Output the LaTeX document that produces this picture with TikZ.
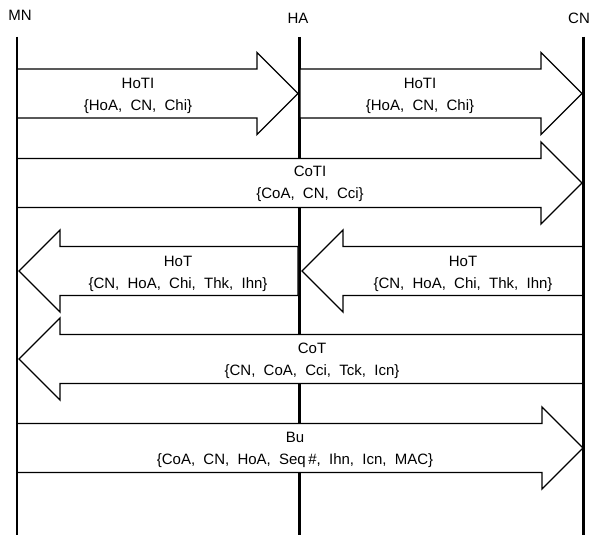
\documentclass[tikz,border=0pt]{standalone}
\usepackage{fontspec}
\setmainfont{Liberation Sans}
\tikzset{
  blk/.style={draw=black, fill=white, line width=1.3pt, line join=miter},
  life/.style={draw=black, line width=2.2pt},
  lbl/.style={align=center, inner sep=0pt, font={\fontsize{15}{22}\selectfont\spaceskip=0.55em plus 0.1em\relax}},
  head/.style={inner sep=0pt, font={\fontsize{15}{17}\selectfont}}
}
\newcommand\rblock[3]{% tail x, tip x, centre y
  \draw[blk] (#1,#3-24.5) -- (#2-41,#3-24.5) -- (#2-41,#3-41) -- (#2,#3)
     -- (#2-41,#3+41) -- (#2-41,#3+24.5) -- (#1,#3+24.5) -- cycle;}
\newcommand\lblock[3]{% tail x, tip x, centre y
  \draw[blk] (#1,#3-24.5) -- (#2+41,#3-24.5) -- (#2+41,#3-41) -- (#2,#3)
     -- (#2+41,#3+41) -- (#2+41,#3+24.5) -- (#1,#3+24.5) -- cycle;}
\begin{document}
\begin{tikzpicture}[x=1pt, y=-1pt]
  \useasboundingbox (0,0) rectangle (591,535);
  % lifeline labels
  \node[head] (mn) at (20,15) {MN};
  \node[head] (ha) at (298,18) {HA};
  \node[head] (cn) at (579,18) {CN};
  % lifeline end points
  \coordinate (mnT) at (17,37);   \coordinate (mnB) at (17,535);
  \coordinate (haT) at (299.5,37); \coordinate (haB) at (299.5,535);
  \coordinate (cnT) at (583.5,37); \coordinate (cnB) at (583.5,535);
  \draw[life] (mnT) -- (mnB);
  \draw[life] (haT) -- (haB);
  \draw[life] (cnT) -- (cnB);
  % block arrows
  \rblock{17}{298}{93.5}
  \rblock{300}{582}{93.5}
  \rblock{17}{582}{183}
  \lblock{583}{302}{271}
  \lblock{298}{19}{271}
  \lblock{583}{19}{359}
  \rblock{17}{583}{448}
  % redraw outer lifelines on top
  \draw[life] (mnT) -- (mnB);
  \draw[life] (cnT) -- (cnB);
  % message labels
  \node[lbl] (hoti1) at (138,96) {HoTI\\\{HoA, CN, Chi\}};
  \node[lbl] (hoti2) at (420,96) {HoTI\\\{HoA, CN, Chi\}};
  \node[lbl] (coti) at (310,184) {CoTI\\\{CoA, CN, Cci\}};
  \node[lbl] (hot1) at (178,273.5) {HoT\\\{CN, HoA, Chi, Thk, Ihn\}};
  \node[lbl] (hot2) at (463,273.5) {HoT\\\{CN, HoA, Chi, Thk, Ihn\}};
  \node[lbl] (cot) at (312,361) {CoT\\\{CN, CoA, Cci, Tck, Icn\}};
  \node[lbl] (bu) at (295,450) {Bu\\\{CoA, CN, HoA, Seq\,\#, Ihn, Icn, MAC\}};
\end{tikzpicture}
\end{document}
